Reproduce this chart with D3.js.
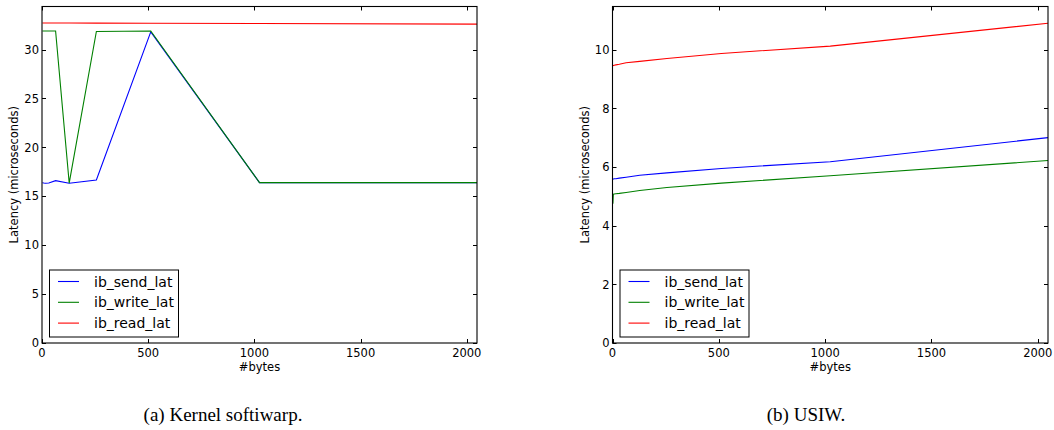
<!DOCTYPE html>
<html>
<head>
<meta charset="utf-8">
<script src="https://cdn.jsdelivr.net/npm/d3@7"></script>
<style>
  html, body { margin: 0; padding: 0; background: #fff; }
  svg { display: block; }
</style>
</head>
<body>
<svg id="chart" width="1054" height="430"></svg>
<script>
// ---- data ----
const bytes = [2, 4, 8, 16, 32, 64, 128, 256, 512, 1024, 2048];
const seriesNames = ["ib_send_lat", "ib_write_lat", "ib_read_lat"];

// (a) Kernel softiwarp
const kernelSend  = [16.39, 16.38, 16.36, 16.33, 16.36, 16.60, 16.33, 16.66, 31.80, 16.40, 16.40];
const kernelWrite = [31.90, 31.90, 31.90, 31.90, 31.90, 31.90, 16.35, 31.85, 31.90, 16.40, 16.40];
const kernelRead  = [32.72, 32.72, 32.72, 32.72, 32.72, 32.71, 32.71, 32.70, 32.69, 32.66, 32.60];

// (b) USIW
const usiwSend  = [5.58, 5.59, 5.60, 5.60, 5.62, 5.65, 5.72, 5.80, 5.95, 6.18, 7.00];
const usiwWrite = [4.75, 5.07, 5.08, 5.09, 5.10, 5.13, 5.20, 5.30, 5.45, 5.70, 6.22];
const usiwRead  = [9.45, 9.46, 9.47, 9.48, 9.50, 9.55, 9.60, 9.70, 9.87, 10.12, 10.90];

const xTicks = [0, 500, 1000, 1500, 2000];
const yTicksA = [0, 5, 10, 15, 20, 25, 30];
const yTicksB = [0, 2, 4, 6, 8, 10];
const captions = ["(a) Kernel softiwarp.", "(b) USIW."];

// ---- drawing ----
const colors = ["#0000ff", "#008000", "#ff0000"];
const svg = d3.select("#chart");
svg.append("rect").attr("width", 1054).attr("height", 430).attr("fill", "#fff");

function panel(opts) {
  const { x0, x1, y0, y1, yMax, yTicks, series, caption, capX } = opts;
  const x = d3.scaleLinear().domain([0, 2048]).range([x0, x1]);
  const y = d3.scaleLinear().domain([0, yMax]).range([y1, y0]);
  const g = svg.append("g");

  // lines
  const line = d3.line().x((d, i) => x(bytes[i])).y(d => y(d));
  series.forEach((s, k) => {
    g.append("path").datum(s).attr("d", line)
      .attr("fill", "none").attr("stroke", colors[k]).attr("stroke-width", 1.1)
      .attr("stroke-linejoin", "miter");
  });

  // frame
  g.append("rect").attr("x", x0).attr("y", y0)
    .attr("width", x1 - x0).attr("height", y1 - y0)
    .attr("fill", "none").attr("stroke", "#000").attr("stroke-width", 1.1);

  const tickLen = 4;
  const tickFont = "DejaVu Sans, sans-serif";
  // x ticks (bottom and top, inward)
  xTicks.forEach(t => {
    const px = Math.round(x(t)) + 0.5;
    g.append("line").attr("x1", px).attr("x2", px).attr("y1", y1).attr("y2", y1 - tickLen)
      .attr("stroke", "#000").attr("stroke-width", 1);
    g.append("line").attr("x1", px).attr("x2", px).attr("y1", y0).attr("y2", y0 + tickLen)
      .attr("stroke", "#000").attr("stroke-width", 1);
    g.append("text").attr("x", x(t)).attr("y", y1 + 13.5)
      .attr("text-anchor", "middle").attr("font-family", tickFont).attr("font-size", 11.5)
      .attr("fill", "#000").text(t);
  });
  // y ticks (left and right, inward)
  yTicks.forEach(t => {
    const py = Math.round(y(t)) + 0.5;
    g.append("line").attr("x1", x0).attr("x2", x0 + tickLen).attr("y1", py).attr("y2", py)
      .attr("stroke", "#000").attr("stroke-width", 1);
    g.append("line").attr("x1", x1).attr("x2", x1 - tickLen).attr("y1", py).attr("y2", py)
      .attr("stroke", "#000").attr("stroke-width", 1);
    g.append("text").attr("x", x0 - 3).attr("y", y(t) + 4.2)
      .attr("text-anchor", "end").attr("font-family", tickFont).attr("font-size", 11.5)
      .attr("fill", "#000").text(t);
  });

  // axis labels
  g.append("text").attr("x", (x0 + x1) / 2).attr("y", y1 + 27.5)
    .attr("text-anchor", "middle").attr("font-family", tickFont).attr("font-size", 11.5)
    .attr("fill", "#000").text("#bytes");
  const lx = x0 - 24, ly = (y0 + y1) / 2;
  g.append("text").attr("transform", `translate(${lx},${ly}) rotate(-90)`)
    .attr("text-anchor", "middle").attr("font-family", tickFont).attr("font-size", 11.5)
    .attr("fill", "#000").text("Latency (microseconds)");

  // legend
  const lgX = x0 + 7, lgY = y1 - 73.5, lgW = 129, lgH = 67;
  g.append("rect").attr("x", lgX + 0.5).attr("y", lgY + 0.5).attr("width", lgW).attr("height", lgH)
    .attr("fill", "#fff").attr("stroke", "#000").attr("stroke-width", 1);
  seriesNames.forEach((name, k) => {
    const ry = lgY + 12 + k * 20.8;
    g.append("line").attr("x1", lgX + 9).attr("x2", lgX + 30).attr("y1", ry).attr("y2", ry)
      .attr("stroke", colors[k]).attr("stroke-width", 1.1);
    g.append("text").attr("x", lgX + 45).attr("y", ry + 5)
      .attr("font-family", tickFont).attr("font-size", 14).attr("fill", "#000").text(name);
  });

  // caption
  svg.append("text").attr("x", capX).attr("y", 420.5)
    .attr("text-anchor", "middle").attr("font-family", "Liberation Serif, serif")
    .attr("font-size", 19).attr("fill", "#000").text(caption);
}

panel({ x0: 42, x1: 477, y0: 6.5, y1: 343, yMax: 34.4, yTicks: yTicksA,
        series: [kernelSend, kernelWrite, kernelRead], caption: captions[0], capX: 223 });
panel({ x0: 612.5, x1: 1048, y0: 6.5, y1: 343, yMax: 11.47, yTicks: yTicksB,
        series: [usiwSend, usiwWrite, usiwRead], caption: captions[1], capX: 806 });
</script>
</body>
</html>
